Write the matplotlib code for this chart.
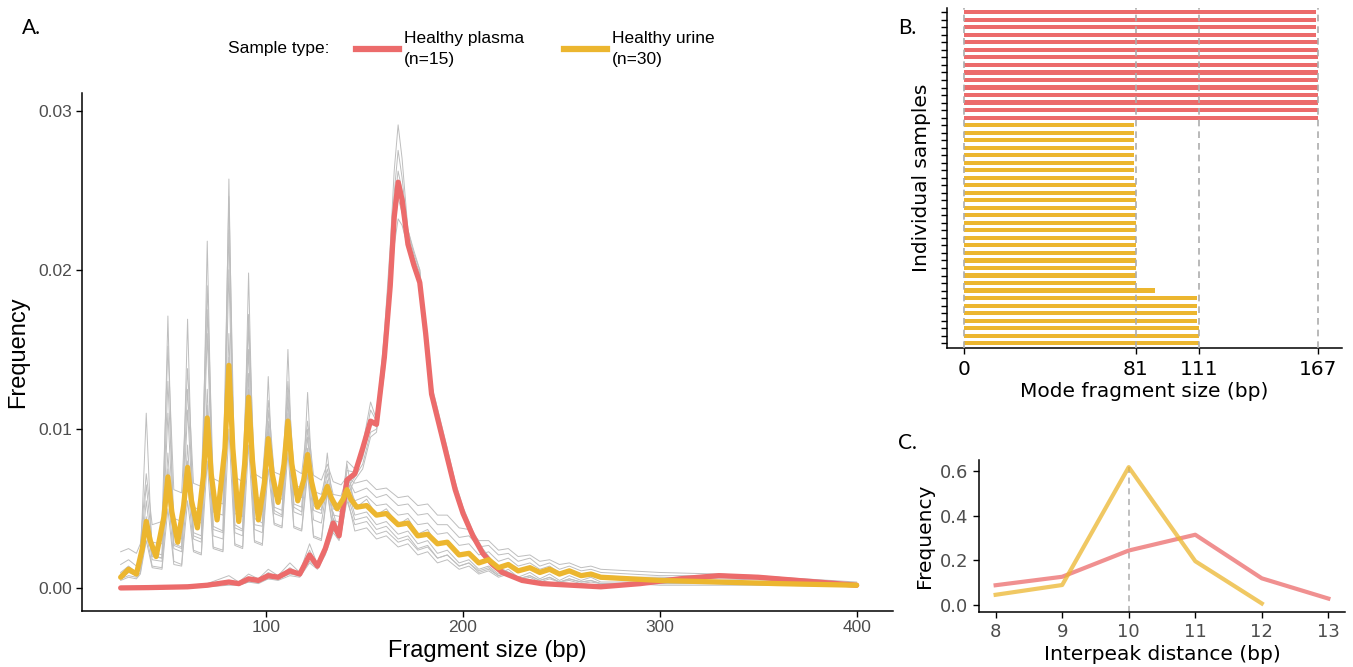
import numpy as np
import matplotlib
matplotlib.use("Agg")
import matplotlib.pyplot as plt
from matplotlib.lines import Line2D

# ---- data -----------------------------------------------------------------
# Panel A: fragment size profiles
# urine mean curve (own grid: slope points around each peak)
URINE_MEAN_X = [26, 30, 34, 37, 39, 41, 44, 48, 50, 52, 55, 58, 60, 62, 65, 68,
                70, 72, 75, 79, 81, 83, 86, 89, 91, 93, 96, 99, 101, 103, 106,
                109, 111, 113, 116, 119, 121, 123, 126, 129, 131, 133, 136, 139,
                141, 143, 146, 151, 156, 161, 167, 172, 177, 182, 187, 192, 198,
                203, 208, 213, 218, 223, 228, 234, 239, 244, 249, 254, 260, 265,
                270, 285, 300, 330, 360, 400]

URINE_MEAN = [0.0007, 0.0012, 0.0009, 0.0025, 0.0042, 0.0030, 0.0020, 0.0045,
              0.0070, 0.0048, 0.0029, 0.0052, 0.0076, 0.0055, 0.0038, 0.0070,
              0.0107, 0.0072, 0.0043, 0.0088, 0.0140, 0.0088, 0.0042, 0.0078,
              0.0120, 0.0080, 0.0043, 0.0066, 0.0094, 0.0072, 0.0054, 0.0078,
              0.0105, 0.0078, 0.0055, 0.0068, 0.0084, 0.0067, 0.0051, 0.0057,
              0.0064, 0.0057, 0.0050, 0.0056, 0.0062, 0.0056, 0.0051,
              0.0052, 0.0046, 0.0047, 0.0040, 0.0041, 0.0033, 0.0034, 0.0028,
              0.0029, 0.0021, 0.0022, 0.0016, 0.0018, 0.0013, 0.0015, 0.0011,
              0.0013, 0.0010, 0.0012, 0.0009, 0.0011, 0.0008, 0.0009, 0.0007,
              0.0006, 0.0005, 0.0004, 0.0003, 0.0002]

# individual urine samples (grid: peaks + trough shoulders)
URINE_X = [26, 30, 34, 36, 39, 42, 47, 50, 53, 57, 60, 63, 67, 70, 73, 78, 81,
           84, 88, 91, 94, 98, 101, 104, 108, 111, 114, 118, 121, 124, 128, 131,
           134, 138, 141, 145, 151, 156, 161, 167, 172, 177, 182, 187, 192, 198,
           203, 208, 213, 218, 223, 228, 234, 239, 244, 249, 254, 260, 265, 270,
           285, 300, 330, 360, 400]

URINE_SAMPLES = [
    [0.0010, 0.0014, 0.0010, 0.0016, 0.0110, 0.0021, 0.0019, 0.0171, 0.0028, 0.0026,
     0.0169, 0.0035, 0.0033, 0.0218, 0.0039, 0.0036, 0.0257, 0.0040, 0.0037, 0.0198,
     0.0044, 0.0041, 0.0133, 0.0049, 0.0046, 0.0150, 0.0051, 0.0048, 0.0123, 0.0052,
     0.0049, 0.0085, 0.0050, 0.0048, 0.0078, 0.0050,
     0.0056, 0.0046, 0.0050, 0.0040, 0.0044, 0.0034, 0.0037, 0.0027, 0.0030, 0.0020,
     0.0023, 0.0015, 0.0019, 0.0012, 0.0016, 0.0010, 0.0014, 0.0009, 0.0012, 0.0008,
     0.0011, 0.0007, 0.0009, 0.0006, 0.0006, 0.0005, 0.0004, 0.0003, 0.0002],
    [0.0023, 0.0025, 0.0022, 0.0028, 0.0072, 0.0040, 0.0042, 0.0152, 0.0062, 0.0060,
     0.0138, 0.0066, 0.0064, 0.0190, 0.0069, 0.0066, 0.0246, 0.0070, 0.0067, 0.0172,
     0.0072, 0.0069, 0.0118, 0.0073, 0.0071, 0.0130, 0.0075, 0.0072, 0.0105, 0.0071,
     0.0068, 0.0078, 0.0067, 0.0065, 0.0070, 0.0066,
     0.0068, 0.0062, 0.0063, 0.0057, 0.0058, 0.0052, 0.0053, 0.0046, 0.0046, 0.0038,
     0.0037, 0.0030, 0.0030, 0.0024, 0.0025, 0.0020, 0.0021, 0.0017, 0.0018, 0.0015,
     0.0016, 0.0013, 0.0014, 0.0012, 0.0011, 0.0010, 0.0009, 0.0007, 0.0004],
    [0.0008, 0.0011, 0.0009, 0.0014, 0.0055, 0.0023, 0.0021, 0.0110, 0.0033, 0.0031,
     0.0112, 0.0043, 0.0041, 0.0160, 0.0048, 0.0046, 0.0200, 0.0047, 0.0045, 0.0150,
     0.0049, 0.0048, 0.0105, 0.0058, 0.0056, 0.0118, 0.0059, 0.0057, 0.0095, 0.0056,
     0.0054, 0.0072, 0.0054, 0.0053, 0.0068, 0.0055,
     0.0058, 0.0052, 0.0053, 0.0046, 0.0047, 0.0040, 0.0041, 0.0034, 0.0035, 0.0027,
     0.0028, 0.0021, 0.0023, 0.0017, 0.0019, 0.0014, 0.0016, 0.0012, 0.0014, 0.0010,
     0.0012, 0.0009, 0.0010, 0.0008, 0.0007, 0.0007, 0.0006, 0.0005, 0.0003],
    [0.0006, 0.0010, 0.0008, 0.0012, 0.0045, 0.0018, 0.0017, 0.0085, 0.0027, 0.0025,
     0.0090, 0.0033, 0.0031, 0.0125, 0.0037, 0.0035, 0.0160, 0.0038, 0.0036, 0.0135,
     0.0040, 0.0039, 0.0100, 0.0051, 0.0049, 0.0110, 0.0053, 0.0051, 0.0088, 0.0049,
     0.0047, 0.0068, 0.0046, 0.0045, 0.0064, 0.0046,
     0.0048, 0.0040, 0.0042, 0.0034, 0.0036, 0.0028, 0.0030, 0.0022, 0.0024, 0.0016,
     0.0018, 0.0012, 0.0014, 0.0009, 0.0012, 0.0007, 0.0010, 0.0006, 0.0009, 0.0005,
     0.0008, 0.0005, 0.0007, 0.0004, 0.0004, 0.0004, 0.0003, 0.0003, 0.0002],
    [0.0006, 0.0008, 0.0007, 0.0010, 0.0035, 0.0014, 0.0013, 0.0062, 0.0017, 0.0015,
     0.0068, 0.0024, 0.0022, 0.0100, 0.0026, 0.0024, 0.0128, 0.0028, 0.0026, 0.0110,
     0.0030, 0.0028, 0.0085, 0.0041, 0.0039, 0.0095, 0.0039, 0.0037, 0.0078, 0.0033,
     0.0031, 0.0062, 0.0036, 0.0035, 0.0058, 0.0036,
     0.0038, 0.0031, 0.0033, 0.0026, 0.0028, 0.0021, 0.0023, 0.0016, 0.0018, 0.0012,
     0.0014, 0.0009, 0.0011, 0.0007, 0.0009, 0.0005, 0.0007, 0.0004, 0.0006, 0.0004,
     0.0005, 0.0003, 0.0004, 0.0003, 0.0003, 0.0002, 0.0002, 0.0002, 0.0001],
    [0.0005, 0.0007, 0.0006, 0.0009, 0.0030, 0.0013, 0.0012, 0.0050, 0.0015, 0.0014,
     0.0055, 0.0023, 0.0021, 0.0080, 0.0025, 0.0023, 0.0100, 0.0027, 0.0025, 0.0090,
     0.0029, 0.0027, 0.0075, 0.0040, 0.0038, 0.0085, 0.0038, 0.0036, 0.0072, 0.0032,
     0.0030, 0.0060, 0.0036, 0.0034, 0.0055, 0.0040,
     0.0042, 0.0034, 0.0036, 0.0029, 0.0031, 0.0024, 0.0026, 0.0019, 0.0021, 0.0014,
     0.0016, 0.0011, 0.0013, 0.0008, 0.0010, 0.0006, 0.0008, 0.0005, 0.0007, 0.0004,
     0.0006, 0.0004, 0.0005, 0.0003, 0.0003, 0.0003, 0.0003, 0.0002, 0.0002],
    [0.0015, 0.0018, 0.0014, 0.0020, 0.0065, 0.0029, 0.0028, 0.0130, 0.0044, 0.0042,
     0.0125, 0.0051, 0.0049, 0.0175, 0.0055, 0.0053, 0.0225, 0.0056, 0.0053, 0.0165,
     0.0058, 0.0056, 0.0112, 0.0063, 0.0061, 0.0124, 0.0065, 0.0063, 0.0100, 0.0061,
     0.0059, 0.0075, 0.0059, 0.0058, 0.0070, 0.0060,
     0.0063, 0.0057, 0.0059, 0.0052, 0.0053, 0.0046, 0.0047, 0.0040, 0.0040, 0.0032,
     0.0033, 0.0026, 0.0027, 0.0021, 0.0022, 0.0017, 0.0019, 0.0014, 0.0016, 0.0012,
     0.0014, 0.0011, 0.0012, 0.0010, 0.0009, 0.0008, 0.0008, 0.0006, 0.0003],
    [0.0009, 0.0012, 0.0010, 0.0013, 0.0040, 0.0020, 0.0019, 0.0075, 0.0025, 0.0023,
     0.0080, 0.0031, 0.0029, 0.0115, 0.0033, 0.0031, 0.0145, 0.0035, 0.0033, 0.0125,
     0.0037, 0.0035, 0.0092, 0.0047, 0.0045, 0.0102, 0.0048, 0.0046, 0.0082, 0.0043,
     0.0041, 0.0065, 0.0043, 0.0041, 0.0060, 0.0043,
     0.0045, 0.0037, 0.0039, 0.0031, 0.0033, 0.0025, 0.0027, 0.0019, 0.0021, 0.0014,
     0.0016, 0.0010, 0.0012, 0.0008, 0.0010, 0.0006, 0.0008, 0.0005, 0.0007, 0.0004,
     0.0006, 0.0004, 0.0005, 0.0003, 0.0003, 0.0003, 0.0003, 0.0002, 0.0002],
]

PLASMA_X = [26, 40, 60, 70, 81, 86, 91, 96, 101, 106, 112, 117, 122, 126, 130,
            134, 137, 141, 145, 149, 153, 156, 160, 163, 165, 167, 169, 172, 175,
            178, 181, 184, 188, 192, 196, 200, 205, 210, 215, 220, 230, 240, 255,
            270, 290, 310, 330, 350, 370, 400]

PLASMA_MEAN = [0.00003, 0.00005, 0.0001, 0.0002, 0.0004, 0.0003, 0.0006, 0.0005,
               0.0008, 0.0007, 0.0011, 0.0009, 0.0021, 0.0014, 0.0025, 0.0041,
               0.0033, 0.0068, 0.0072, 0.0088, 0.0105, 0.0103, 0.0145, 0.0190,
               0.0233, 0.0255, 0.0244, 0.0216, 0.0203, 0.0192, 0.0160, 0.0122,
               0.0102, 0.0082, 0.0062, 0.0047, 0.0033, 0.0022, 0.0015, 0.0010,
               0.0005, 0.0003, 0.0002, 0.0001, 0.0003, 0.0006, 0.0008, 0.0007,
               0.0005, 0.0002]

PLASMA_SAMPLES = [
    [0.0001, 0.0001, 0.0002, 0.0003, 0.0008, 0.0004, 0.0009, 0.0006, 0.0012, 0.0008,
     0.0016, 0.0010, 0.0028, 0.0015, 0.0027, 0.0048, 0.0034, 0.0080, 0.0075, 0.0090,
     0.0117, 0.0106, 0.0160, 0.0215, 0.0262, 0.0291, 0.0270, 0.0225, 0.0210, 0.0200,
     0.0160, 0.0122, 0.0103, 0.0080, 0.0060, 0.0045, 0.0032, 0.0021, 0.0015, 0.0011,
     0.0006, 0.0004, 0.0003, 0.0002, 0.0003, 0.0005, 0.0007, 0.0006, 0.0004, 0.0002],
    [0.0000, 0.0001, 0.0001, 0.0002, 0.0005, 0.0003, 0.0007, 0.0005, 0.0010, 0.0007,
     0.0013, 0.0009, 0.0024, 0.0014, 0.0026, 0.0044, 0.0033, 0.0074, 0.0073, 0.0085,
     0.0112, 0.0105, 0.0152, 0.0205, 0.0248, 0.0275, 0.0258, 0.0222, 0.0208, 0.0198,
     0.0158, 0.0124, 0.0105, 0.0084, 0.0064, 0.0049, 0.0035, 0.0024, 0.0017, 0.0012,
     0.0006, 0.0004, 0.0003, 0.0002, 0.0004, 0.0007, 0.0009, 0.0008, 0.0006, 0.0003],
    [0.0000, 0.0000, 0.0001, 0.0002, 0.0003, 0.0003, 0.0005, 0.0004, 0.0007, 0.0006,
     0.0010, 0.0008, 0.0019, 0.0013, 0.0024, 0.0040, 0.0032, 0.0066, 0.0071, 0.0082,
     0.0103, 0.0102, 0.0145, 0.0198, 0.0240, 0.0262, 0.0250, 0.0218, 0.0205, 0.0196,
     0.0157, 0.0121, 0.0103, 0.0083, 0.0063, 0.0048, 0.0034, 0.0023, 0.0016, 0.0011,
     0.0005, 0.0003, 0.0002, 0.0002, 0.0003, 0.0006, 0.0008, 0.0007, 0.0005, 0.0002],
    [0.0000, 0.0001, 0.0001, 0.0002, 0.0003, 0.0002, 0.0004, 0.0004, 0.0006, 0.0006,
     0.0009, 0.0008, 0.0017, 0.0013, 0.0023, 0.0037, 0.0031, 0.0062, 0.0070, 0.0078,
     0.0098, 0.0100, 0.0140, 0.0188, 0.0225, 0.0245, 0.0236, 0.0225, 0.0212, 0.0200,
     0.0162, 0.0128, 0.0108, 0.0088, 0.0067, 0.0051, 0.0036, 0.0025, 0.0017, 0.0012,
     0.0006, 0.0004, 0.0003, 0.0002, 0.0004, 0.0006, 0.0008, 0.0007, 0.0005, 0.0003],
    [0.0000, 0.0000, 0.0001, 0.0001, 0.0002, 0.0002, 0.0004, 0.0003, 0.0006, 0.0005,
     0.0008, 0.0007, 0.0016, 0.0012, 0.0021, 0.0035, 0.0030, 0.0058, 0.0068, 0.0075,
     0.0095, 0.0098, 0.0135, 0.0180, 0.0215, 0.0232, 0.0228, 0.0214, 0.0200, 0.0190,
     0.0155, 0.0123, 0.0104, 0.0085, 0.0064, 0.0049, 0.0035, 0.0024, 0.0016, 0.0011,
     0.0005, 0.0003, 0.0002, 0.0001, 0.0003, 0.0005, 0.0007, 0.0006, 0.0004, 0.0002],
]

# Panel B: mode fragment size per sample (top to bottom)
PLASMA_MODES = [166, 166, 166, 166, 167, 167, 167, 167, 167, 167, 167, 167, 167, 167, 167]
URINE_MODES = [80, 80, 80, 80, 80, 80, 80, 80, 81, 81, 81, 81, 81, 81, 81, 81,
               81, 81, 81, 81, 81, 81, 90, 110, 110, 110, 110, 111, 111, 111]
MODE_TICKS = [0, 81, 111, 167]

# Panel C: interpeak distance frequency
IPD_PLASMA_X = [8, 9, 10, 11, 12, 13]
IPD_PLASMA = [0.088, 0.126, 0.244, 0.315, 0.119, 0.028]
IPD_URINE_X = [8, 9, 10, 11, 12]
IPD_URINE = [0.045, 0.089, 0.619, 0.196, 0.006]

RED = "#EC6B6B"
YELLOW = "#ECB62F"
GREY = "#BEBEBE"
TICK_GREY = "#4D4D4D"

W, H = 1353, 667


def rect(left, top, right, bottom):
    """pixel box -> figure fraction rect"""
    return [left / W, 1 - bottom / H, (right - left) / W, (bottom - top) / H]


def style_axes(ax):
    for s in ("top", "right"):
        ax.spines[s].set_visible(False)
    for s in ("left", "bottom"):
        ax.spines[s].set_linewidth(1.1)


fig = plt.figure(figsize=(W / 100, H / 100), dpi=100)

# ---- panel A -----------------------------------------------------------------
SANS = ["Liberation Sans", "DejaVu Sans"]
axA = fig.add_axes(rect(82.3, 93, 893, 610.7))
for ys in URINE_SAMPLES:
    axA.plot(URINE_X, ys, color=GREY, lw=0.7, zorder=1)
for ys in PLASMA_SAMPLES:
    axA.plot(PLASMA_X, ys, color=GREY, lw=0.7, zorder=1)
axA.plot(PLASMA_X, PLASMA_MEAN, color=RED, lw=3.8, solid_joinstyle="round",
         solid_capstyle="round", zorder=3)
axA.plot(URINE_MEAN_X, URINE_MEAN, color=YELLOW, lw=3.8, solid_joinstyle="round",
         solid_capstyle="round", zorder=4)
axA.set_xlim(6.5, 418.5)
axA.set_ylim(-0.0014, 0.0311)
axA.set_xticks([100, 200, 300, 400])
axA.set_yticks([0.0, 0.01, 0.02, 0.03])
axA.set_yticklabels(["0.00", "0.01", "0.02", "0.03"])
style_axes(axA)
axA.tick_params(length=4, width=1, labelsize=12.5, labelcolor=TICK_GREY, pad=3)
for lab in axA.get_xticklabels() + axA.get_yticklabels():
    lab.set_family(SANS)
axA.set_xlabel("Fragment size (bp)", fontsize=17, family=SANS, labelpad=3)
axA.set_ylabel("Frequency", fontsize=17, family=SANS, labelpad=7)

# legend
fig.text(228 / W, 1 - 48 / H, "Sample type:", fontsize=12.5, family=SANS,
         ha="left", va="center")
handles = [Line2D([], [], color=RED, lw=4.5), Line2D([], [], color=YELLOW, lw=4.5)]
leg = fig.legend(handles, ["Healthy plasma\n(n=15)", "Healthy urine\n(n=30)"],
                 loc="center left", bbox_to_anchor=(356 / W, 1 - 49 / H), ncol=2,
                 frameon=False, handlelength=2.5, handletextpad=0.25,
                 columnspacing=2.3, borderpad=0, borderaxespad=0,
                 prop={"family": SANS, "size": 12.5})
for t in leg.get_texts():
    t.set_linespacing(1.45)

# ---- panel B -----------------------------------------------------------------
axB = fig.add_axes(rect(946.7, 7.8, 1341.7, 347.7))
modes = PLASMA_MODES + URINE_MODES
colors = [RED] * len(PLASMA_MODES) + [YELLOW] * len(URINE_MODES)
pos = np.arange(len(modes), 0, -1)
axB.barh(pos, modes, height=0.55, color=colors, zorder=2)
for t in MODE_TICKS:
    axB.axvline(t, color="#ADADAD", lw=1.2, ls=(0, (4, 3)), zorder=3)
axB.set_xlim(-8.4, 178.3)
axB.set_ylim(0.4, len(modes) + 0.6)
axB.set_xticks(MODE_TICKS)
axB.set_yticks(pos)
axB.set_yticklabels([])
style_axes(axB)
axB.tick_params(axis="y", length=4, width=1)
axB.tick_params(axis="x", length=4, width=1, labelsize=14.5, labelcolor="black", pad=5)
axB.set_xlabel("Mode fragment size (bp)", fontsize=14.5, labelpad=2)
axB.set_ylabel("Individual samples", fontsize=14.5, labelpad=4)

# ---- panel C -----------------------------------------------------------------
axC = fig.add_axes(rect(979, 460, 1345, 611.7))
peak_x = IPD_URINE_X[int(np.argmax(IPD_URINE))]
axC.vlines(peak_x, -0.031, max(IPD_URINE), colors="#ADADAD", lw=1.1,
           linestyles=(0, (4, 3)), zorder=1)
axC.plot(IPD_PLASMA_X, IPD_PLASMA, color=RED, lw=3, alpha=0.75, zorder=2)
axC.plot(IPD_URINE_X, IPD_URINE, color=YELLOW, lw=3, alpha=0.75, zorder=3)
axC.set_xlim(7.75, 13.25)
axC.set_ylim(-0.031, 0.651)
axC.set_xticks([8, 9, 10, 11, 12, 13])
axC.set_yticks([0.0, 0.2, 0.4, 0.6])
axC.set_yticklabels(["0.0", "0.2", "0.4", "0.6"])
style_axes(axC)
axC.tick_params(length=4, width=1, labelsize=13, labelcolor=TICK_GREY, pad=4)
axC.set_xlabel("Interpeak distance (bp)", fontsize=14.5, labelpad=3)
axC.set_ylabel("Frequency", fontsize=14.5, labelpad=4)

# panel letters
for lbl, x, y in (("A.", 22, 28), ("B.", 898, 28), ("C.", 898, 443)):
    fig.text(x / W, 1 - y / H, lbl, fontsize=15, family=["Lato", "DejaVu Sans"],
             ha="left", va="center")

fig.savefig("out.png", dpi=100)
